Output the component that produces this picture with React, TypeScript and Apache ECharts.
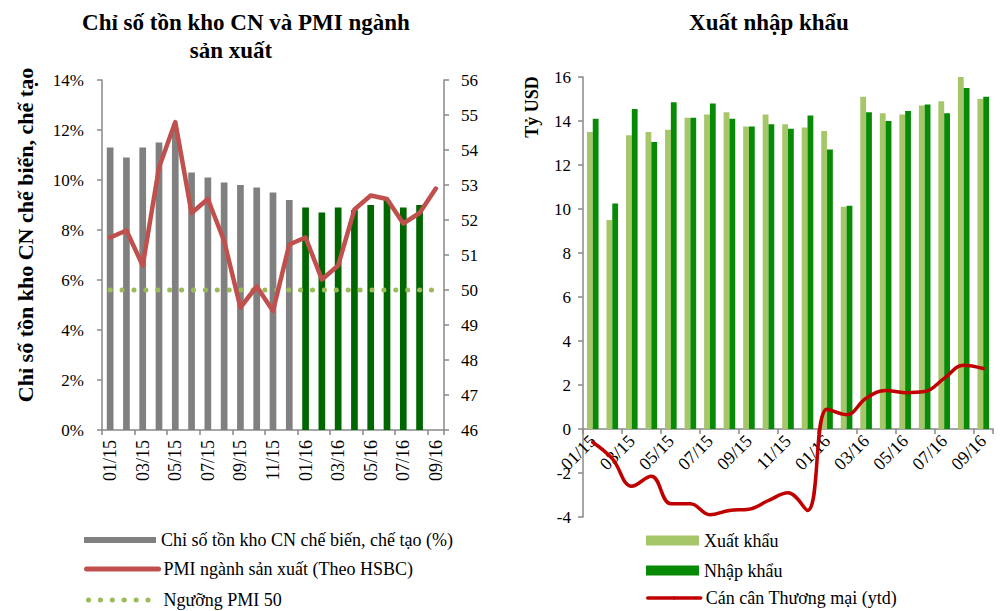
import React, { useEffect, useRef } from "react";
import * as echarts from "echarts";

const months = [
  "01/15", "02/15", "03/15", "04/15", "05/15", "06/15", "07/15", "08/15", "09/15", "10/15", "11/15", "12/15",
  "01/16", "02/16", "03/16", "04/16", "05/16", "06/16", "07/16", "08/16", "09/16",
];
// Left chart
const inventoryIndex = [11.3, 10.9, 11.3, 11.5, 12.0, 10.3, 10.1, 9.9, 9.8, 9.7, 9.5, 9.2, 8.9, 8.7, 8.9, 8.8, 9.0, 9.2, 8.9, 9.0, null];
const pmi = [51.5, 51.7, 50.7, 53.5, 54.8, 52.2, 52.6, 51.4, 49.5, 50.1, 49.4, 51.3, 51.5, 50.3, 50.7, 52.3, 52.7, 52.6, 51.9, 52.2, 52.9];
const pmiThreshold = [50, 50, 50, 50, 50, 50, 50, 50, 50, 50, 50, 50, 50, 50, 50, 50, 50, 50, 50, 50, 50];
// Right chart (tỷ USD)
const exportsVal = [13.5, 9.5, 13.35, 13.5, 13.6, 14.15, 14.3, 14.4, 13.75, 14.3, 13.85, 13.7, 13.55, 10.1, 15.1, 14.35, 14.3, 14.7, 14.9, 16.05, 15.0];
const importsVal = [14.1, 10.25, 14.55, 13.05, 14.85, 14.15, 14.8, 14.1, 13.75, 13.85, 13.65, 14.25, 12.7, 10.15, 14.4, 14.0, 14.45, 14.75, 14.35, 15.5, 15.1];
const tradeBalance = [-0.6, -1.35, -2.6, -2.15, -3.4, -3.4, -3.9, -3.7, -3.65, -3.25, -2.9, -3.7, 0.9, 0.65, 1.4, 1.75, 1.65, 1.7, 2.3, 2.9, 2.75];

const FONT = "'Liberation Serif', 'Times New Roman', serif";
const AXIS_COLOR = "#898989";
const GRAY = "#808080";
const DARK_GREEN_LEFT = "#006600";
const FIRST_2016 = 12;

const RIGHT_MIN = -4;
const RIGHT_MAX = 16;
const RIGHT_GRID_H = 440;

const names = {
  inv: "Chỉ số tồn kho CN chế biến, chế tạo (%)",
  pmi: "PMI ngành sản xuất (Theo HSBC)",
  thr: "Ngưỡng PMI 50",
  ex: "Xuất khẩu",
  im: "Nhập khẩu",
  bal: "Cán cân Thương mại (ytd)",
};

export default function App() {
  const ref = useRef<HTMLDivElement>(null);
  useEffect(() => {
    if (!ref.current) return;
    const chart = echarts.init(ref.current, undefined, { renderer: "svg" });
    const axisLine = { show: true, lineStyle: { color: AXIS_COLOR, width: 1.5 } };
    const axisTick = (inside = false) => ({ show: true, inside, length: 5, lineStyle: { color: AXIS_COLOR, width: 1.5 } });
    const labelStyle = { color: "#000", fontFamily: FONT, fontSize: 17 };
    const legendText = { color: "#000", fontFamily: FONT, fontSize: 18 };

    const legendItem = (name: string, left: number, centerY: number, w: number, h: number, extra: any = {}) => ({
      data: [name],
      left,
      top: centerY - 10,
      padding: 0,
      itemWidth: w,
      itemHeight: h,
      selectedMode: false,
      textStyle: legendText,
      ...extra,
    });

    // zero line of the right chart, measured up from the grid bottom
    const zeroOffset = -(RIGHT_GRID_H * (0 - RIGHT_MIN)) / (RIGHT_MAX - RIGHT_MIN);

    chart.setOption({
      animation: false,
      textStyle: { fontFamily: FONT },
      grid: [
        { left: 102, top: 80, width: 342, height: 350 },
        { left: 583, top: 77, width: 410, height: RIGHT_GRID_H },
      ],
      xAxis: [
        {
          type: "category",
          gridIndex: 0,
          data: months,
          boundaryGap: true,
          axisLine,
          axisTick: { ...axisTick(), interval: 1 },
          axisLabel: { ...labelStyle, fontSize: 18, interval: 1, rotate: 90, margin: 10 },
        },
        {
          type: "category",
          gridIndex: 1,
          data: months,
          boundaryGap: true,
          position: "bottom",
          offset: zeroOffset,
          axisLine: { ...axisLine, onZero: false },
          axisTick: { ...axisTick(), interval: 1 },
          axisLabel: { ...labelStyle, fontSize: 18, interval: 1, rotate: 45, margin: 9 },
        },
      ],
      yAxis: [
        {
          type: "value",
          gridIndex: 0,
          min: 0,
          max: 14,
          interval: 2,
          axisLine,
          axisTick: axisTick(),
          splitLine: { show: false },
          axisLabel: { ...labelStyle, margin: 18, formatter: "{value}%" },
        },
        {
          type: "value",
          gridIndex: 0,
          position: "right",
          min: 46,
          max: 56,
          interval: 1,
          axisLine,
          axisTick: axisTick(),
          splitLine: { show: false },
          axisLabel: { ...labelStyle, margin: 17 },
        },
        {
          type: "value",
          gridIndex: 1,
          min: RIGHT_MIN,
          max: RIGHT_MAX,
          interval: 2,
          axisLine,
          axisTick: axisTick(),
          splitLine: { show: false },
          axisLabel: { ...labelStyle, margin: 12 },
        },
      ],
      legend: [
        legendItem(names.inv, 84, 541, 72, 6, { icon: "rect" }),
        legendItem(names.pmi, 84, 570, 72, 5, { lineStyle: { width: 5 } }),
        legendItem(names.thr, 86, 601, 70, 5, { lineStyle: { width: 5 } }),
        legendItem(names.ex, 646, 541.5, 53, 10, { icon: "rect" }),
        legendItem(names.im, 646, 571.5, 53, 10, { icon: "rect" }),
        legendItem(names.bal, 646, 599, 53, 4, { lineStyle: { width: 3.5 } }),
      ],
      series: [
        {
          name: names.inv,
          type: "bar",
          xAxisIndex: 0,
          yAxisIndex: 0,
          barWidth: 6.7,
          itemStyle: { color: GRAY },
          data: inventoryIndex.map((v, i) =>
            i >= FIRST_2016 ? { value: v, itemStyle: { color: DARK_GREEN_LEFT } } : v
          ),
        },
        {
          name: names.thr,
          type: "line",
          xAxisIndex: 0,
          yAxisIndex: 1,
          symbol: "none",
          lineStyle: { color: "#9BBB59", width: 5, type: [0.1, 11.8], cap: "round" },
          itemStyle: { color: "#9BBB59" },
          data: pmiThreshold,
        },
        {
          name: names.pmi,
          type: "line",
          xAxisIndex: 0,
          yAxisIndex: 1,
          symbol: "none",
          lineStyle: { color: "#C0504D", width: 4.5, join: "round", cap: "round" },
          itemStyle: { color: "#C0504D" },
          data: pmi,
        },
        {
          name: names.ex,
          type: "bar",
          xAxisIndex: 1,
          yAxisIndex: 2,
          barWidth: 5.8,
          barGap: "0%",
          itemStyle: { color: "#A6C66A" },
          data: exportsVal,
        },
        {
          name: names.im,
          type: "bar",
          xAxisIndex: 1,
          yAxisIndex: 2,
          barWidth: 5.8,
          barGap: "0%",
          itemStyle: { color: "#078B07" },
          data: importsVal,
        },
        {
          name: names.bal,
          type: "line",
          xAxisIndex: 1,
          yAxisIndex: 2,
          symbol: "none",
          smooth: 0.4,
          lineStyle: { color: "#C00000", width: 3.5, cap: "round" },
          itemStyle: { color: "#C00000" },
          data: tradeBalance,
        },
      ],
      graphic: [
        {
          type: "text",
          x: 246,
          y: 22,
          style: { text: "Chỉ số tồn kho CN và PMI ngành", fontFamily: FONT, fontSize: 23, fontWeight: "bold", fill: "#000", align: "center", verticalAlign: "middle" },
        },
        {
          type: "text",
          x: 231,
          y: 50,
          style: { text: "sản xuất", fontFamily: FONT, fontSize: 23, fontWeight: "bold", fill: "#000", align: "center", verticalAlign: "middle" },
        },
        {
          type: "text",
          x: 769,
          y: 22,
          style: { text: "Xuất nhập khẩu", fontFamily: FONT, fontSize: 23, fontWeight: "bold", fill: "#000", align: "center", verticalAlign: "middle" },
        },
        {
          type: "text",
          x: 25,
          y: 235,
          rotation: Math.PI / 2,
          style: { text: "Chỉ số tồn kho CN chế biến, chế tạo", fontFamily: FONT, fontSize: 22, fontWeight: "bold", fill: "#000", align: "center", verticalAlign: "middle" },
        },
        {
          type: "text",
          x: 532,
          y: 107,
          rotation: Math.PI / 2,
          style: { text: "Tỷ USD", fontFamily: FONT, fontSize: 18, fontWeight: "bold", fill: "#000", align: "center", verticalAlign: "middle" },
        },
      ],
    });
    return () => chart.dispose();
  }, []);
  return <div ref={ref} style={{ position: "absolute", left: 0, top: 0, width: 1000, height: 611, background: "#fff" }} />;
}
